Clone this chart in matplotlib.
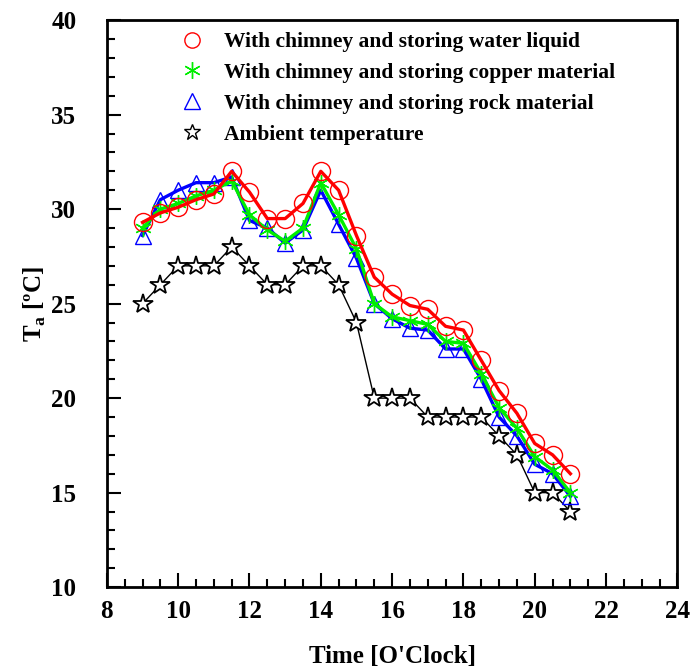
import matplotlib
matplotlib.use("Agg")
import matplotlib.pyplot as plt
from matplotlib.lines import Line2D
from matplotlib.ticker import MultipleLocator

# time of day [h], half-hour steps
time = [9, 9.5, 10, 10.5, 11, 11.5, 12, 12.5, 13, 13.5, 14, 14.5, 15,
        15.5, 16, 16.5, 17, 17.5, 18, 18.5, 19, 19.5, 20, 20.5, 21]

water = [29.3, 29.8, 30.1, 30.5, 30.8, 32.0, 30.9, 29.5, 29.5, 30.3, 32.0, 31.0, 28.6,
         26.4, 25.5, 24.9, 24.7, 23.8, 23.6, 22.0, 20.4, 19.2, 17.6, 17.0, 16.0]
copper = [29.0, 30.0, 30.3, 30.7, 31.0, 31.5, 29.7, 28.9, 28.3, 29.0, 31.4, 29.7, 27.9,
          25.0, 24.3, 24.1, 23.9, 23.0, 22.9, 21.3, 19.5, 18.4, 16.9, 16.2, 15.0]
rock = [28.6, 30.5, 31.0, 31.4, 31.4, 31.7, 29.4, 29.0, 28.2, 28.9, 31.0, 29.2, 27.4,
        25.0, 24.2, 23.7, 23.6, 22.6, 22.6, 21.0, 19.0, 18.0, 16.5, 16.0, 14.8]
ambient = [25, 26, 27, 27, 27, 28, 27, 26, 26, 27, 27, 26, 24,
           20, 20, 20, 19, 19, 19, 19, 18, 17, 15, 15, 14]

labels = ["With chimney and storing water liquid",
          "With chimney and storing copper material",
          "With chimney and storing rock material",
          "Ambient temperature"]

GREEN = "#00ee00"
ASTERISK = (6, 2, 0)

plt.rcParams["font.family"] = "Liberation Serif"
plt.rcParams["font.weight"] = "bold"

fig = plt.figure(figsize=(6.94, 6.71), dpi=100)
ax = fig.add_axes([0.154, 0.125, 0.822, 0.845])

ax.plot(time, ambient, color="black", lw=1.0, marker="*", ms=15,
        mfc="white", mec="black", mew=1.3)
ax.plot(time, rock, color="blue", lw=2.4, marker="^", ms=11,
        mfc="none", mec="blue", mew=1.0)
ax.plot(time, copper, color=GREEN, lw=2.4, marker=ASTERISK, ms=12,
        mec=GREEN, mew=1.0)
ax.plot(time, water, color="red", lw=2.4, marker="o", ms=13,
        mfc="none", mec="red", mew=1.0)

ax.set_xlim(8, 24)
ax.set_ylim(10, 40)
ax.xaxis.set_major_locator(MultipleLocator(2))
ax.xaxis.set_minor_locator(MultipleLocator(0.5))
ax.yaxis.set_major_locator(MultipleLocator(5))
ax.yaxis.set_minor_locator(MultipleLocator(1))
ax.tick_params(which="both", direction="in", top=False, right=False,
               labelsize=18, width=1.5)
ax.tick_params(axis="y", which="major", length=10, pad=22)
ax.tick_params(axis="x", which="major", length=10, pad=9)
ax.tick_params(which="minor", length=6)
for s in ax.spines.values():
    s.set_linewidth(2)

ax.set_xlabel("Time [O'Clock]", fontsize=18, fontweight="bold", labelpad=16)
ax.set_ylabel("T$_\\mathregular{a}$ [ºC]", fontsize=18, fontweight="bold", labelpad=2)

handles = [
    Line2D([], [], ls="none", marker="o", ms=11, mfc="none", mec="red"),
    Line2D([], [], ls="none", marker=ASTERISK, ms=12, mec=GREEN),
    Line2D([], [], ls="none", marker="^", ms=11, mfc="none", mec="blue"),
    Line2D([], [], ls="none", marker="*", ms=12, mfc="white", mec="black"),
]
ax.legend(handles, labels, loc="upper left", bbox_to_anchor=(0.09, 1.0),
          frameon=False, fontsize=15.5, handletextpad=0.5, labelspacing=0.5,
          borderaxespad=0.15)

fig.savefig("out.png", dpi=100)
